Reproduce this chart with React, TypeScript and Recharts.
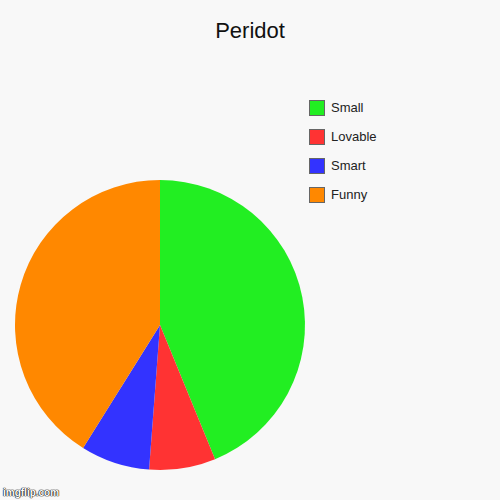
import { Cell, Legend, Pie, PieChart } from 'recharts';

const categories = ['Small', 'Lovable', 'Smart', 'Funny'];
const values = [43.8, 7.4, 7.7, 41.1];
const colors = ['#22ee22', '#ff3333', '#3333ff', '#ff8800'];

const data = categories.map((name, i) => ({ name, value: values[i] }));

function LegendBox() {
  return (
    <div>
      {categories.map((name, i) => (
        <div
          key={name}
          style={{ display: 'flex', alignItems: 'center', height: 29 }}
        >
          <span
            style={{
              width: 14,
              height: 14,
              background: colors[i],
              border: '1px solid #666',
              marginRight: 6
            }}
          />
          <span style={{ fontSize: 13, color: '#222' }}>{name}</span>
        </div>
      ))}
    </div>
  );
}

export default function App() {
  return (
    <div
      style={{
        position: 'absolute',
        top: 0,
        left: 0,
        width: 500,
        height: 500,
        background: '#f8f8f8',
        fontFamily: 'Arial, "Liberation Sans", sans-serif'
      }}
    >
      <div
        style={{
          position: 'absolute',
          top: 18,
          width: 500,
          textAlign: 'center',
          fontSize: 22,
          color: '#111'
        }}
      >
        Peridot
      </div>
      <PieChart width={500} height={500} margin={{ top: 0, right: 0, bottom: 0, left: 0 }}>
        <Pie
          data={data}
          dataKey="value"
          nameKey="name"
          cx={160}
          cy={325}
          outerRadius={145}
          startAngle={90}
          endAngle={-270}
          stroke="none"
          isAnimationActive={false}
        >
          {data.map((d, i) => (
            <Cell key={d.name} fill={colors[i]} />
          ))}
        </Pie>
        <Legend
          content={<LegendBox />}
          layout="vertical"
          wrapperStyle={{ position: 'absolute', top: 93, left: 309, width: 120 }}
        />
      </PieChart>
      <div
        style={{
          position: 'absolute',
          left: 3,
          bottom: 2,
          fontSize: 10,
          fontWeight: 'bold',
          color: '#fff',
          textShadow: '0 0 1px #000, 0 0 1px #000, 0 0 1px #000'
        }}
      >
        imgflip.com
      </div>
    </div>
  );
}
